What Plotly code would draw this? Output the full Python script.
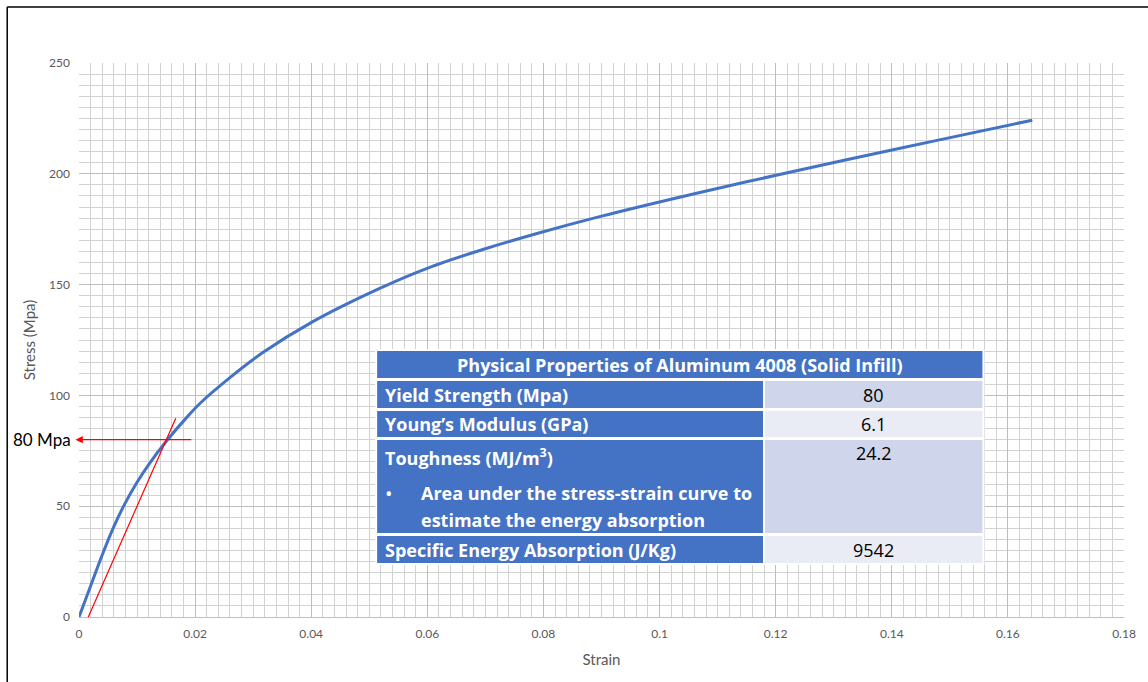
import plotly.graph_objects as go

# ---- data ----
strain = [0, 0.002, 0.004, 0.006, 0.008, 0.010, 0.012, 0.015, 0.0186, 0.021,
          0.026, 0.0316, 0.0402, 0.0517, 0.0603, 0.07, 0.0792, 0.09, 0.1027, 0.115,
          0.132, 0.148, 0.1642]
stress = [0, 14, 28, 40.8, 51.6, 60.8, 68.8, 79.2, 90.2, 96.8,
          108, 119.2, 133.2, 148.2, 157.7, 166.2, 173.3, 180.9, 189, 196.4,
          206.2, 215.2, 224.2]

tangent_strain = [0.00143, 0.01667]
tangent_stress = [-1, 89.7]
yield_strength = 80
yield_line_end = 0.0196

table_title = "Physical Properties of Aluminum 4008 (Solid Infill)"
prop_names = ["Yield Strength (Mpa)", "Young\u2019s Modulus (GPa)", "Toughness (MJ/m<sup>3</sup>)",
              "Specific Energy Absorption (J/Kg)"]
prop_values = ["80", "6.1", "24.2", "9542"]
toughness_note = ["Area under the stress-strain curve to", "estimate the energy absorption"]

x_ticks = [0, 0.02, 0.04, 0.06, 0.08, 0.1, 0.12, 0.14, 0.16, 0.18]
x_tick_text = ["0", "0.02", "0.04", "0.06", "0.08", "0.1", "0.12", "0.14", "0.16", "0.18"]
y_ticks = [0, 50, 100, 150, 200, 250]

# ---- layout geometry (pixels) ----
W, H = 1148, 682
L, R, T, B = 79, 1127, 63, 617


def px(x):
    return (x - L) / (R - L)


def py(y):
    return (B - y) / (B - T)


FONT = "Lato"
TFONT = "Open Sans"
BLUE = "#4472C4"
TS = 18

fig = go.Figure()
fig.add_trace(go.Scatter(x=strain, y=stress, mode="lines",
                         line=dict(color=BLUE, width=3, shape="spline", smoothing=1.0),
                         showlegend=False, hoverinfo="skip"))
fig.add_trace(go.Scatter(x=tangent_strain, y=tangent_stress, mode="lines",
                         line=dict(color="#FF0000", width=1.2), showlegend=False,
                         hoverinfo="skip", cliponaxis=False))

shapes = []
annotations = []

# arrow for yield strength
annotations.append(dict(x=-0.0006, y=yield_strength, xref="x", yref="y",
                        ax=yield_line_end, ay=yield_strength, axref="x", ayref="y",
                        text="", showarrow=True, arrowhead=2, arrowsize=1.2,
                        arrowwidth=1.2, arrowcolor="#FF0000", standoff=0, startstandoff=0))
annotations.append(dict(x=px(73), y=yield_strength, xref="paper", yref="y",
                        text="80 Mpa", showarrow=False, xanchor="right", yanchor="middle",
                        font=dict(family=FONT, size=17, color="#000000")))

# table
LC0, LC1, RC0, RC1 = 378, 765, 767, 985
rows = [(381, 408), (411, 437), (440, 533), (536, 563)]
right_colors = ["#CFD5EA", "#E9EBF5", "#CFD5EA", "#E9EBF5"]


def rect(x0, y0, x1, y1, color):
    shapes.append(dict(type="rect", xref="paper", yref="paper",
                       x0=px(x0), x1=px(x1), y0=py(y1), y1=py(y0),
                       fillcolor=color, line=dict(width=0), layer="above"))


# white backing
rect(376, 349, 987, 565, "#FFFFFF")
rect(LC0, 351, RC1, 378, BLUE)
annotations.append(dict(x=px((LC0 + RC1) / 2), y=py(365), xref="paper", yref="paper",
                        text="<b>" + table_title + "</b>", showarrow=False,
                        xanchor="center", yanchor="middle",
                        font=dict(family=TFONT, size=TS, color="#FFFFFF")))
for i, (y0, y1) in enumerate(rows):
    rect(LC0, y0, LC1, y1, BLUE)
    rect(RC0, y0, RC1, y1, right_colors[i])
    if i == 2:
        ty = 457
        vy = 453
    else:
        ty = (y0 + y1) / 2
        vy = ty
    annotations.append(dict(x=px(384), y=py(ty), xref="paper", yref="paper",
                            text="<b>" + prop_names[i] + "</b>", showarrow=False,
                            xanchor="left", yanchor="middle",
                            font=dict(family=TFONT, size=TS, color="#FFFFFF")))
    annotations.append(dict(x=px((RC0 + RC1) / 2), y=py(vy), xref="paper", yref="paper",
                            text=prop_values[i], showarrow=False,
                            xanchor="center", yanchor="middle",
                            font=dict(family=TFONT, size=TS, color="#000000")))

annotations.append(dict(x=px(390), y=py(493), xref="paper", yref="paper",
                        text="\u2022", showarrow=False, xanchor="center", yanchor="middle",
                        font=dict(family=TFONT, size=20, color="#FFFFFF")))
for k, line in enumerate(toughness_note):
    annotations.append(dict(x=px(420), y=py(493 + 27 * k), xref="paper", yref="paper",
                            text="<b>" + line + "</b>", showarrow=False,
                            xanchor="left", yanchor="middle",
                            font=dict(family=TFONT, size=TS, color="#FFFFFF")))

# outer border lines (left and top)
shapes.append(dict(type="line", xref="paper", yref="paper",
                   x0=px(7), x1=px(7), y0=py(7), y1=py(H + 5),
                   line=dict(color="#000000", width=1.5), layer="above"))
shapes.append(dict(type="line", xref="paper", yref="paper",
                   x0=px(7), x1=px(W + 5), y0=py(7), y1=py(7),
                   line=dict(color="#000000", width=1.5), layer="above"))

fig.update_layout(
    width=W, height=H,
    margin=dict(l=L, r=W - R, t=T, b=H - B),
    paper_bgcolor="#FFFFFF", plot_bgcolor="#FFFFFF",
    shapes=shapes, annotations=annotations,
    font=dict(family=FONT, color="#595959"),
)
fig.update_xaxes(range=[0, 0.18], tickvals=x_ticks, ticktext=x_tick_text,
                 showgrid=True, gridcolor="#BDBDBD", gridwidth=1,
                 minor=dict(dtick=0.002, showgrid=True, gridcolor="#D2D2D2", gridwidth=1),
                 zeroline=False, showline=True, linecolor="#BFBFBF", linewidth=1,
                 ticks="", tickfont=dict(size=12, color="#595959"), ticklabelstandoff=6,
                 title=dict(text="Strain", font=dict(size=15, color="#595959"), standoff=14),
                 mirror=False)
fig.update_yaxes(range=[0, 250], tickvals=y_ticks,
                 showgrid=True, gridcolor="#BDBDBD", gridwidth=1,
                 minor=dict(dtick=5, showgrid=True, gridcolor="#D2D2D2", gridwidth=1),
                 zeroline=False, showline=False,
                 ticks="", tickfont=dict(size=12, color="#595959"), ticklabelstandoff=8,
                 title=dict(text="Stress (Mpa)", font=dict(size=15, color="#595959"), standoff=9))

fig.write_html("out.html", config={"displayModeBar": False},
               post_script="document.body.style.margin='0px';")
